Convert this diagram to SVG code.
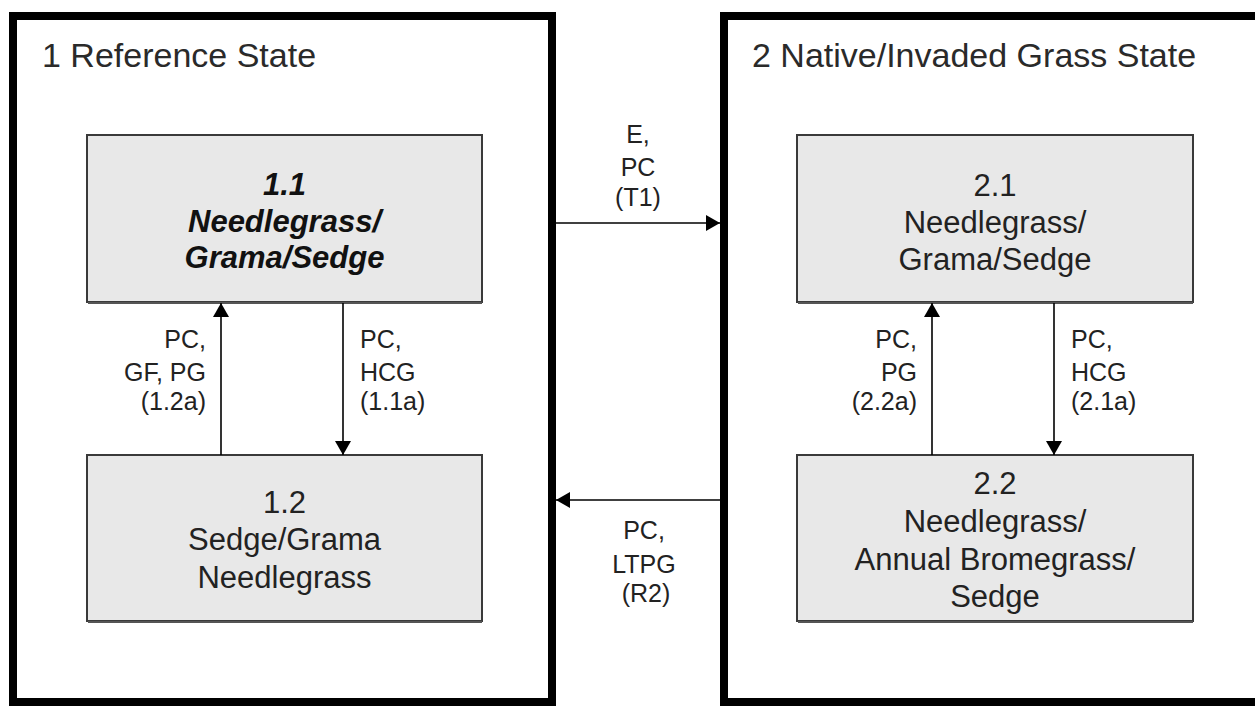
<svg xmlns="http://www.w3.org/2000/svg" width="1255" height="706" viewBox="0 0 1255 706">
<style>
.state{fill:#ffffff;stroke:#000000;stroke-width:8}
.box{fill:#e8e8e8;stroke:#3a3a3a;stroke-width:2}
.shadow{stroke:#555;stroke-width:2}
.title{font-family:"Liberation Sans",Arial,sans-serif;font-size:34px;fill:#2a2a2a}
.nt{font-family:"Liberation Sans",Arial,sans-serif;font-size:31px;fill:#222;text-anchor:middle}
.bi{font-weight:bold;font-style:italic;fill:#111}
.lbl{font-family:"Liberation Sans",Arial,sans-serif;font-size:25px;fill:#222}
.conn{stroke:#000;stroke-width:1.6;fill:none}
</style>
<defs>
<marker id="ah" markerUnits="userSpaceOnUse" markerWidth="15" markerHeight="16" viewBox="0 0 14 16" refX="14" refY="8" orient="auto">
<path d="M0,0 L14,8 L0,16 z" fill="#000"/>
</marker>
</defs>
<rect width="1255" height="706" fill="#ffffff"/>
<g id="state1">
<rect class="state" x="13" y="16" width="539" height="686"/>
<text class="title" x="42" y="67">1 Reference State</text>
</g>
<g id="state2">
<rect class="state" x="724" y="16" width="600" height="686"/>
<text class="title" x="752" y="67">2 Native/Invaded Grass State</text>
</g>
<g id="n11">
<rect class="box" x="87" y="135" width="395" height="167"/>
<line class="shadow" x1="88" y1="303" x2="482" y2="303"/>
<text class="nt bi" x="284.5" y="195">1.1</text>
<text class="nt bi" x="284.5" y="232">Needlegrass/</text>
<text class="nt bi" x="284.5" y="268">Grama/Sedge</text>
</g>
<g id="n12">
<rect class="box" x="87" y="455" width="395" height="166"/>
<line class="shadow" x1="88" y1="622" x2="482" y2="622"/>
<text class="nt" x="284.5" y="513">1.2</text>
<text class="nt" x="284.5" y="550">Sedge/Grama</text>
<text class="nt" x="284.5" y="588">Needlegrass</text>
</g>
<g id="n21">
<rect class="box" x="797" y="135" width="396" height="167"/>
<line class="shadow" x1="798" y1="303" x2="1193" y2="303"/>
<text class="nt" x="995" y="196">2.1</text>
<text class="nt" x="995" y="233">Needlegrass/</text>
<text class="nt" x="995" y="270">Grama/Sedge</text>
</g>
<g id="n22">
<rect class="box" x="797" y="455" width="396" height="166"/>
<line class="shadow" x1="798" y1="622" x2="1193" y2="622"/>
<text class="nt" x="995" y="494">2.2</text>
<text class="nt" x="995" y="532">Needlegrass/</text>
<text class="nt" x="995" y="570">Annual Bromegrass/</text>
<text class="nt" x="995" y="607">Sedge</text>
</g>
<g id="connectors">
<line class="conn" x1="221" y1="455" x2="221" y2="303" marker-end="url(#ah)"/>
<line class="conn" x1="343" y1="303" x2="343" y2="455" marker-end="url(#ah)"/>
<line class="conn" x1="932" y1="455" x2="932" y2="303" marker-end="url(#ah)"/>
<line class="conn" x1="1054" y1="303" x2="1054" y2="455" marker-end="url(#ah)"/>
<line class="conn" x1="556" y1="223" x2="720" y2="223" marker-end="url(#ah)"/>
<line class="conn" x1="720" y1="500" x2="556" y2="500" marker-end="url(#ah)"/>
<text class="lbl" text-anchor="end" x="206" y="348">PC,</text>
<text class="lbl" text-anchor="end" x="206" y="381">GF, PG</text>
<text class="lbl" text-anchor="end" x="206" y="410">(1.2a)</text>
<text class="lbl" x="360" y="348">PC,</text>
<text class="lbl" x="360" y="381">HCG</text>
<text class="lbl" x="360" y="410">(1.1a)</text>
<text class="lbl" text-anchor="end" x="917" y="348">PC,</text>
<text class="lbl" text-anchor="end" x="917" y="381">PG</text>
<text class="lbl" text-anchor="end" x="917" y="410">(2.2a)</text>
<text class="lbl" x="1071" y="348">PC,</text>
<text class="lbl" x="1071" y="381">HCG</text>
<text class="lbl" x="1071" y="410">(2.1a)</text>
<text class="lbl" text-anchor="middle" x="638" y="143">E,</text>
<text class="lbl" text-anchor="middle" x="638" y="176">PC</text>
<text class="lbl" text-anchor="middle" x="638" y="206">(T1)</text>
<text class="lbl" text-anchor="middle" x="644" y="539">PC,</text>
<text class="lbl" text-anchor="middle" x="644" y="573">LTPG</text>
<text class="lbl" text-anchor="middle" x="646" y="602">(R2)</text>
</g>
</svg>
